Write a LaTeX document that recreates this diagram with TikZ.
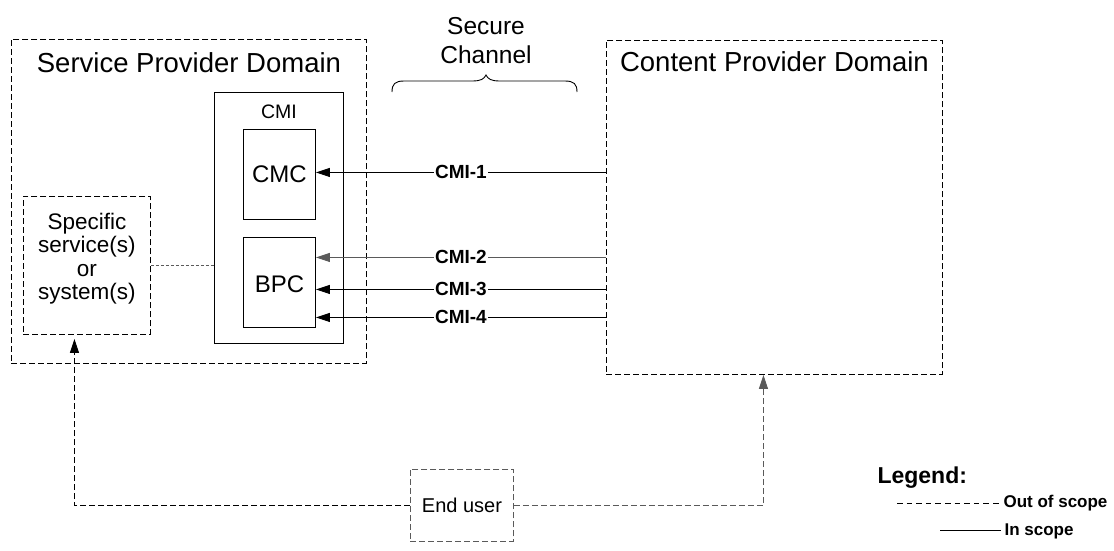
\documentclass[tikz,border=0pt]{standalone}
\usepackage{fontspec}
\setmainfont{Liberation Sans}
\usetikzlibrary{arrows.meta}
\definecolor{lgrey}{HTML}{5A5A5A}
\begin{document}
\begin{tikzpicture}[x=1pt,y=-1pt,
  box/.style={draw, line width=0.9pt, inner sep=0pt, anchor=north west},
  oos/.style={dash pattern=on 6pt off 3pt},
  ln/.style={line width=0.9pt},
  arr/.style={-{Triangle[length=14pt,width=9pt]}},
  lbl/.style={fill=white, inner sep=1pt, font=\bfseries\fontsize{19}{22}\selectfont},
  title/.style={font=\fontsize{27.5}{32}\selectfont},
  inner/.style={font=\fontsize{24}{28}\selectfont}]
\useasboundingbox (0,0) rectangle (1114,550);

% domains
\node[box, oos, minimum width=355pt, minimum height=324pt] (spd) at (11,39) {};
\node[title] (spdt) at ([yshift=-24pt]spd.north) {Service Provider Domain};
\node[box, oos, minimum width=336pt, minimum height=334pt] (cpd) at (606,40) {};
\node[title] (cpdt) at ([yshift=-22pt]cpd.north) {Content Provider Domain};

% CMI
\node[box, minimum width=129pt, minimum height=251pt] (cmi) at (214,92) {};
\node[font=\fontsize{19.5}{23}\selectfont] (cmit) at ([yshift=-20pt]cmi.north) {CMI};
\node[box, minimum width=72pt, minimum height=90pt, inner] (cmc) at (243,129) {};
\node[inner] (cmct) at (cmc.center) {CMC};
\node[box, minimum width=72pt, minimum height=90pt] (bpc) at (243,237) {};
\node[inner] (bpct) at ([yshift=-2pt]bpc.center) {BPC};

% specific services
\node[box, oos, minimum width=127pt, minimum height=138pt] (spec) at (23,196) {};
\node[align=center, font=\fontsize{22.5}{23.5}\selectfont] (spect) at ([yshift=7pt]spec.center) {Specific\\service(s)\\or\\system(s)};

% end user
\node[box, oos, draw=lgrey, minimum width=103pt, minimum height=72pt] (eu) at (410,469) {};
\node[font=\fontsize{20}{24}\selectfont] (eut) at (eu.center) {End user};

% secure channel
\node[align=center, font=\fontsize{24.5}{29}\selectfont] (sc) at (486,41) {Secure\\Channel};
\draw[ln] (392,92) .. controls (392,84) and (395,81) .. (404,81) -- (472,81)
  .. controls (481,81) and (484,79) .. (486,75)
  .. controls (488,79) and (491,81) .. (500,81) -- (565,81)
  .. controls (574,81) and (577,84) .. (577,92);

% CMI interfaces
\path ([yshift=2pt]cmc.east) coordinate (c1)
      ([yshift=25pt]bpc.east) coordinate (c2)
      ([yshift=-7pt]bpc.east) coordinate (c3)
      ([yshift=-35pt]bpc.east) coordinate (c4);
\draw[ln, arr] (c1 -| cpd.west) -- (c1) node[lbl, midway] (l1) {CMI-1};
\draw[ln, arr, draw=lgrey] (c2 -| cpd.west) -- (c2) node[lbl, midway] (l2) {CMI-2};
\draw[ln, arr] (c3 -| cpd.west) -- (c3) node[lbl, midway] (l3) {CMI-3};
\draw[ln, arr] (c4 -| cpd.west) -- (c4) node[lbl, midway] (l4) {CMI-4};

% dotted link
\draw[ln, lgrey, dash pattern=on 3pt off 2pt] (spec.east) -- (spec.east -| cmi.west);

% end user links
\draw[ln, oos, arr] (eu.west) -| ([xshift=-12.5pt, yshift=-4pt]spec.south);
\draw[ln, oos, arr, draw=lgrey] (eu.east) -| ([xshift=-11pt]cpd.south);

% legend
\node[anchor=west, font=\bfseries\fontsize{23}{27}\selectfont] (leg) at (874,478) {Legend:};
\node[anchor=west, font=\bfseries\fontsize{17}{20}\selectfont] (lego) at (1000,503) {Out of scope};
\node[anchor=west, font=\bfseries\fontsize{17}{20}\selectfont] (legi) at (1001,531) {In scope};
\coordinate (lo) at (897,503);
\coordinate (li) at (940,530);
\draw[ln, dash pattern=on 5.6pt off 4pt] (lo) -- (lo -| lego.west);
\draw[ln] (li) -- (li -| legi.west);
\end{tikzpicture}
\end{document}
